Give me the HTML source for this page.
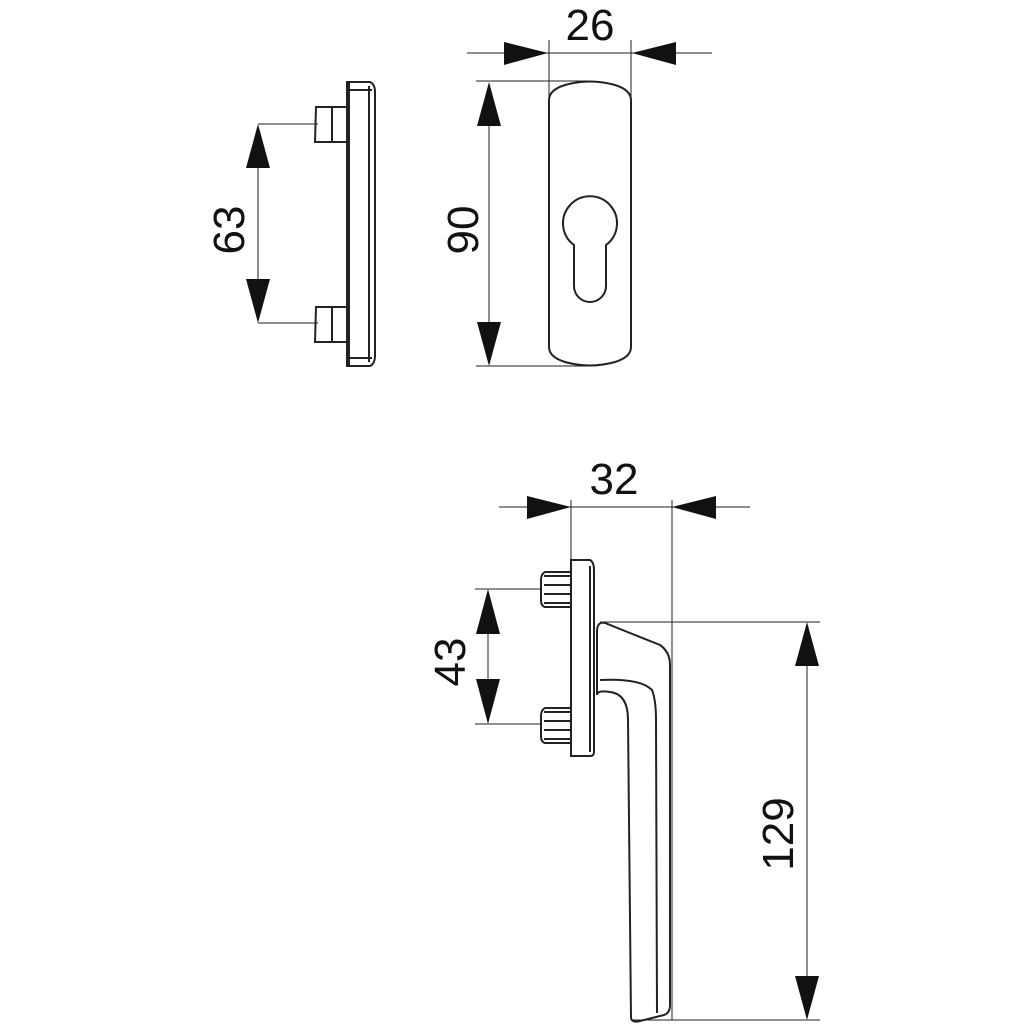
<!DOCTYPE html>
<html><head><style>html,body{margin:0;padding:0;background:#fff}svg{display:block}</style></head><body>
<svg width="1024" height="1024" viewBox="0 0 1024 1024" xmlns="http://www.w3.org/2000/svg">
<g stroke="#222" fill="none" stroke-width="1">
<!-- top-left profile -->
<line x1="258" y1="124" x2="318" y2="124"/>
<line x1="258" y1="323" x2="318" y2="323"/>
<line x1="258" y1="150" x2="258" y2="297"/>
<g stroke-width="2">
<path d="M347 82 H370 Q375 84 375 92 V355 Q375 364 370 366 H347 Z"/>
<line x1="349" y1="90" x2="372" y2="90"/><line x1="349" y1="358" x2="372" y2="358"/>
<line x1="349" y1="82" x2="349" y2="366"/><line x1="369" y1="86" x2="369" y2="362"/>
<path d="M347 107 H316 L315 142 H347"/><line x1="332" y1="107" x2="332" y2="142"/>
<path d="M347 307 H316 L315 342 H347"/><line x1="332" y1="307" x2="332" y2="342"/>
</g>
<!-- escutcheon -->
<line x1="476" y1="81" x2="590" y2="81"/>
<line x1="476" y1="366" x2="590" y2="366"/>
<line x1="489" y1="120" x2="489" y2="328"/>
<line x1="549" y1="40" x2="549" y2="100"/>
<line x1="631" y1="40" x2="631" y2="100"/>
<line x1="467" y1="53" x2="712" y2="53"/>
<g stroke-width="2">
<path d="M549 100 Q549 90 565 85 Q590 78 615 85 Q631 90 631 100 V347 Q631 357 615 362 Q590 369 565 362 Q549 357 549 347 Z"/>
<path d="M574 245 A27 27 0 1 1 606 245 V286 A16 16 0 0 1 574 286 Z"/>
</g>
<!-- bottom handle dims -->
<line x1="499" y1="507" x2="750" y2="507"/>
<line x1="571" y1="500" x2="571" y2="560"/>
<line x1="672" y1="500" x2="672" y2="1020"/>
<line x1="475" y1="589" x2="540" y2="589"/>
<line x1="475" y1="724" x2="540" y2="724"/>
<line x1="488" y1="620" x2="488" y2="695"/>
<line x1="600" y1="622" x2="820" y2="622"/>
<line x1="632" y1="1020" x2="820" y2="1020"/>
<line x1="807" y1="660" x2="807" y2="985"/>
<g stroke-width="2">
<path d="M571 560 H590 Q594 562 594 570 V752 Q594 756 590 756 H571 Z"/>
<line x1="590" y1="566" x2="590" y2="752"/>
<path d="M570 572 H545 Q541 574 541 580 V600 Q541 606 545 607 H570"/>
<line x1="544" y1="576" x2="570" y2="576"/><line x1="544" y1="603" x2="570" y2="603"/>
<line x1="544" y1="585" x2="570" y2="585"/><line x1="544" y1="594" x2="570" y2="594"/>
<path d="M570 708 H545 Q541 710 541 716 V736 Q541 742 545 743 H570"/>
<line x1="544" y1="712" x2="570" y2="712"/><line x1="544" y1="739" x2="570" y2="739"/>
<line x1="544" y1="721" x2="570" y2="721"/><line x1="544" y1="730" x2="570" y2="730"/>
<path d="M597 630 V695 Q597 690 610 692 Q628 694 628 720 L631 1018 Q632 1023 640 1021 L664 1015 Q670 1013 670 1005 V665 Q670 652 660 645 L605 623 Q598 621 597 630"/>
<path d="M600 680 Q640 678 652 690 Q656 700 656 720 L657 1013"/>
</g>
</g>
<g fill="#111">
<path d="M258 124 L246 168 L270 168 Z"/><path d="M258 323 L246 279 L270 279 Z"/>
<path d="M489 82 L477 126 L501 126 Z"/><path d="M489 366 L477 322 L501 322 Z"/>
<path d="M548 53 L504 42 L504 65 Z"/><path d="M632 53 L676 42 L676 65 Z"/>
<path d="M571 507 L527 496 L527 519 Z"/><path d="M672 507 L716 496 L716 519 Z"/>
<path d="M488 589 L476 634 L500 634 Z"/><path d="M488 724 L476 679 L500 679 Z"/>
<path d="M807 622 L795 666 L819 666 Z"/><path d="M807 1020 L795 976 L819 976 Z"/>
</g>
<g font-family="Liberation Sans, sans-serif" font-size="44" fill="#111" text-anchor="middle">
<text x="590" y="40">26</text>
<text x="614" y="494">32</text>
<text transform="translate(244,230) rotate(-90)">63</text>
<text transform="translate(478,230) rotate(-90)">90</text>
<text transform="translate(465,662) rotate(-90)">43</text>
<text transform="translate(793,834) rotate(-90)">129</text>
</g>
</svg>
</body></html>
